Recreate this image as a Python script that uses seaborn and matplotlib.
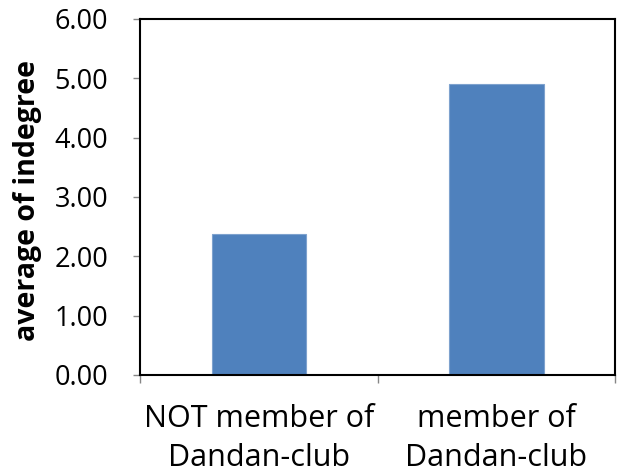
import matplotlib
matplotlib.use("Agg")
import matplotlib.pyplot as plt
import seaborn as sns
import pandas as pd
from matplotlib.ticker import FixedLocator

# Average indegree by club membership
categories = ["NOT member of\nDandan-club", "member of\nDandan-club"]
avg_indegree = [2.37, 4.91]
y_ticks = [0.0, 1.0, 2.0, 3.0, 4.0, 5.0, 6.0]

df = pd.DataFrame({"group": categories, "value": avg_indegree})

sns.set_style("white")
plt.rcParams["font.family"] = ["Open Sans", "DejaVu Sans"]
plt.rcParams["text.color"] = "black"
plt.rcParams["xtick.labelcolor"] = "black"
plt.rcParams["ytick.labelcolor"] = "black"
plt.rcParams["axes.labelcolor"] = "black"

fig = plt.figure(figsize=(6.19, 4.76), dpi=100)
ax = fig.add_axes([0.2267, 0.2122, 0.7668, 0.7479])

sns.barplot(data=df, x="group", y="value", color="#4F81BD", width=0.4,
            edgecolor="#7EA2CE", linewidth=0.8, saturation=1, ax=ax)

ax.set_ylim(0, 6)
ax.set_xlim(-0.5, 1.5)
ax.set_yticks(y_ticks)
ax.set_yticklabels([f"{v:.2f}" for v in y_ticks])
ax.set_xlabel("")
ax.set_ylabel("average of indegree", fontsize=20.5, fontweight="bold",
              color="black")
ax.yaxis.set_label_coords(-0.207, 0.49)

for side in ["left", "bottom", "top", "right"]:
    ax.spines[side].set_visible(True)
    ax.spines[side].set_color("black")
    ax.spines[side].set_linewidth(1.5)

ax.tick_params(axis="y", direction="out", length=5, width=1, color="#868686",
               labelsize=19.5, pad=18, left=True, labelcolor="black")
ax.tick_params(axis="x", which="major", length=0, labelsize=22, pad=21,
               labelcolor="black")
ax.xaxis.set_minor_locator(FixedLocator([-0.5, 0.5, 1.5]))
ax.tick_params(axis="x", which="minor", direction="out", length=6, width=1,
               color="#868686", bottom=True)
for lbl in ax.get_xticklabels():
    lbl.set_linespacing(1.4)

fig.savefig("out.png", dpi=100)
